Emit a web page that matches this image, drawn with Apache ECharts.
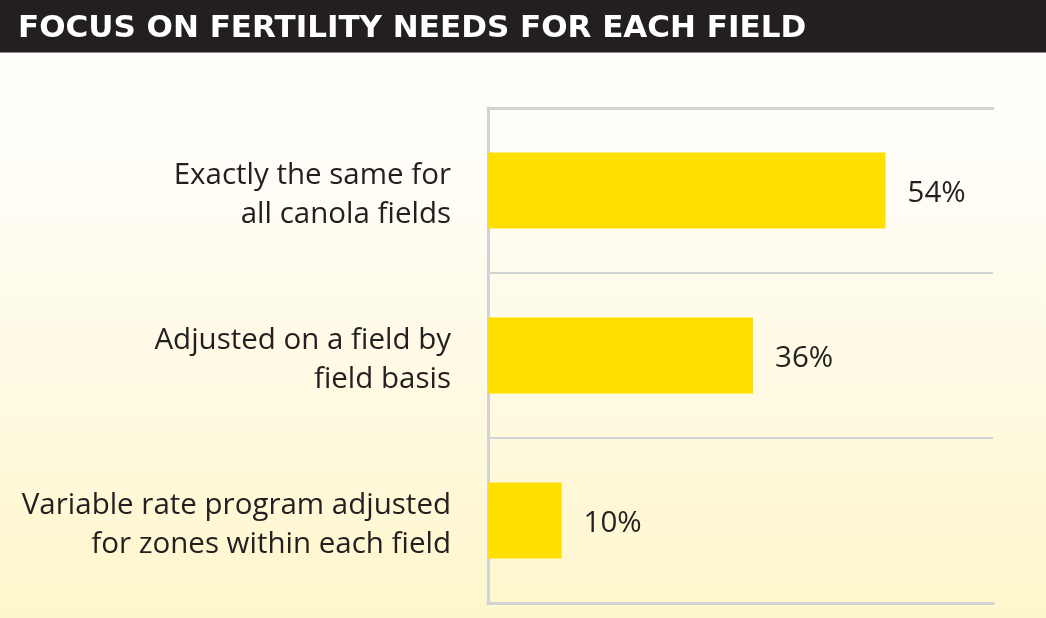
<!DOCTYPE html>
<html>
<head>
<meta charset="utf-8">
<script src="https://cdn.jsdelivr.net/npm/echarts@6/dist/echarts.min.js"></script>
<style>
html,body{margin:0;padding:0;}
#chart{width:1046px;height:618px;}
</style>
</head>
<body>
<div id="chart"></div>
<script>
const titleText = 'FOCUS ON FERTILITY NEEDS FOR EACH FIELD';
const categories = [
  'Exactly the same for\nall canola fields',
  'Adjusted on a field by\nfield basis',
  'Variable rate program adjusted\nfor zones within each field'
];
const values = [54, 36, 10];

const chart = echarts.init(document.getElementById('chart'), null, {renderer: 'canvas'});
const gridColor = '#d1d3d4';
const textColor = '#231f20';
const option = {
  animation: false,
  backgroundColor: {
    type: 'linear', x: 0, y: 0, x2: 0, y2: 1,
    colorStops: [
      {offset: 0, color: '#fffefc'},
      {offset: 0.3, color: '#fffdf6'},
      {offset: 1, color: '#fef6cb'}
    ]
  },
  graphic: [
    {type: 'rect', shape: {x: 0, y: 0, width: 1046, height: 52}, style: {fill: '#231f20'}, z: 10},
    {type: 'rect', shape: {x: 0, y: 52, width: 1046, height: 1}, style: {fill: '#8a8a8a'}, z: 10},
    {type: 'text', left: 18, top: 13, z: 11,
     style: {text: titleText, fill: '#ffffff', font: 'bold 31px "DejaVu Sans"'}}
  ],
  grid: {left: 488, right: 53, top: 108, bottom: 15, containLabel: false},
  xAxis: [
    {type: 'value', min: 0, max: 68.6, position: 'bottom',
     axisLine: {show: true, lineStyle: {color: gridColor, width: 3}},
     axisTick: {show: false}, axisLabel: {show: false}, splitLine: {show: false}},
    {type: 'value', min: 0, max: 68.6, position: 'top',
     axisLine: {show: true, lineStyle: {color: gridColor, width: 3}},
     axisTick: {show: false}, axisLabel: {show: false}, splitLine: {show: false}}
  ],
  yAxis: {
    type: 'category', data: categories, inverse: true,
    axisLine: {show: true, lineStyle: {color: gridColor, width: 3}},
    axisTick: {show: false},
    splitLine: {show: true, lineStyle: {color: gridColor, width: 2}},
    axisLabel: {
      color: textColor, fontFamily: 'Open Sans', fontSize: 29.5, fontWeight: 'normal',
      lineHeight: 39, align: 'right', margin: 37,
      formatter: v => '{s| }\n' + v.split('\n').map(s => '{a|' + s + '}').join('\n'),
      rich: {
        s: {fontSize: 1, lineHeight: 10},
        a: {color: textColor, fontFamily: 'Open Sans', fontSize: 29.5, lineHeight: 39, align: 'right'}
      }
    }
  },
  series: [{
    type: 'bar', data: values, barWidth: '46%', xAxisIndex: 0,
    itemStyle: {color: '#ffdf00'},
    label: {show: true, position: 'right', distance: 22,
      formatter: p => '{s| }\n{v|' + p.value + '%}',
      rich: {
        s: {fontSize: 1, lineHeight: 7},
        v: {color: textColor, fontFamily: 'Open Sans', fontSize: 29.5, lineHeight: 39}
      }
    }
  }]
};
chart.setOption(option);
</script>
</body>
</html>
